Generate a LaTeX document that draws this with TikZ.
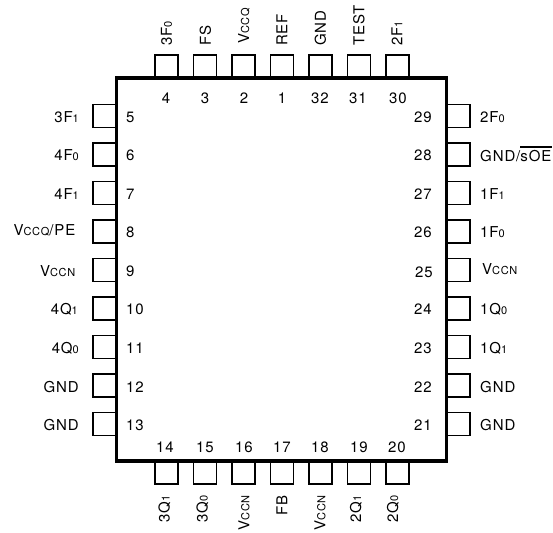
\documentclass[tikz,border=0pt]{standalone}
\usepackage{fontspec}
\setmainfont[LetterSpace=6]{TeX Gyre Heros}
\usepackage{amsmath}

\newcommand{\lowtxt}[1]{{\fontsize{11}{12}\selectfont #1}}
\newcommand{\barOE}{\smash{\rlap{\rule[13pt]{32pt}{2.6pt}}}}

\tikzset{
  pinbox/.style={rectangle,draw,line width=1.6pt,minimum size=23pt,inner sep=0pt},
  pinnum/.style={inner sep=0pt,font=\fontsize{15}{16}\selectfont},
  pinname/.style={inner sep=0pt,font=\fontsize{15}{16}\selectfont},
  topname/.style={pinname,rotate=90,anchor=west},
  botname/.style={pinname,rotate=90,anchor=east},
}

\begin{document}
\begin{tikzpicture}[x=1pt,y=-1pt]
\path[use as bounding box] (0,0) rectangle (553,532);

% pins along the top
\begin{scope}[every node/.style={pinbox}]
\node (p4) at (166.5,66.5) {};
\node (p3) at (205,66.5) {};
\node (p2) at (243.5,66.5) {};
\node (p1) at (282,66.5) {};
\node (p32) at (320.5,66.5) {};
\node (p31) at (359,66.5) {};
\node (p30) at (397.5,66.5) {};

% left side
\node (p5) at (104.5,116) {};
\node (p6) at (104.5,154.5) {};
\node (p7) at (104.5,193) {};
\node (p8) at (104.5,231.5) {};
\node (p9) at (104.5,270) {};
\node (p10) at (104.5,308.5) {};
\node (p11) at (104.5,347) {};
\node (p12) at (104.5,385.5) {};
\node (p13) at (104.5,424) {};

% right side
\node (p29) at (458.5,116) {};
\node (p28) at (458.5,154.5) {};
\node (p27) at (458.5,193) {};
\node (p26) at (458.5,231.5) {};
\node (p25) at (458.5,270) {};
\node (p24) at (458.5,308.5) {};
\node (p23) at (458.5,347) {};
\node (p22) at (458.5,385.5) {};
\node (p21) at (458.5,424) {};

% bottom
\node (p14) at (166.5,472.5) {};
\node (p15) at (205,472.5) {};
\node (p16) at (243.5,472.5) {};
\node (p17) at (282,472.5) {};
\node (p18) at (320.5,472.5) {};
\node (p19) at (359,472.5) {};
\node (p20) at (397.5,472.5) {};
\end{scope}

\node (chip) [draw,line width=3.6pt,minimum width=330pt,minimum height=383pt,inner sep=0pt] at (281.5,269.5) {};

\begin{scope}[every node/.style={pinnum}]
\node (n4) at (166,98) {4};
\node (n3) at (205,98) {3};
\node (n2) at (244,98) {2};
\node (n1) at (282,98) {1};
\node (n32) at (320,98) {32};
\node (n31) at (358,98) {31};
\node (n30) at (398,98) {30};

\node (n5) [anchor=west] at (126,117) {5};
\node (n6) [anchor=west] at (126,155.5) {6};
\node (n7) [anchor=west] at (126,194) {7};
\node (n8) [anchor=west] at (126,232.5) {8};
\node (n9) [anchor=west] at (126,271) {9};
\node (n10) [anchor=west] at (126,309.5) {10};
\node (n11) [anchor=west] at (126,348) {11};
\node (n12) [anchor=west] at (126,387) {12};
\node (n13) [anchor=west] at (126,425.5) {13};

\node (n29) [anchor=east] at (432,117) {29};
\node (n28) [anchor=east] at (432,155.5) {28};
\node (n27) [anchor=east] at (432,194) {27};
\node (n26) [anchor=east] at (432,232.5) {26};
\node (n25) [anchor=east] at (433,272) {25};
\node (n24) [anchor=east] at (432,309.5) {24};
\node (n23) [anchor=east] at (432,348) {23};
\node (n22) [anchor=east] at (432,387) {22};
\node (n21) [anchor=east] at (432,425.5) {21};

\node (n14) at (165,447) {14};
\node (n15) at (205,447) {15};
\node (n16) at (244,447) {16};
\node (n17) at (282,447) {17};
\node (n18) at (320,447) {18};
\node (n19) at (359,447) {19};
\node (n20) at (397,447) {20};
\end{scope}

\node (l4) [topname] at (166.5,46) {3F\lowtxt{0}};
\node (l3) [topname] at (205.5,46) {FS};
\node (l2) [topname] at (244,44) {V\lowtxt{CCQ}};
\node (l1) [topname] at (282,46) {REF};
\node (l32) [topname] at (320.5,46) {GND};
\node (l31) [topname] at (359,46) {TEST};
\node (l30) [topname] at (397,46) {2F\lowtxt{1}};

\begin{scope}[every node/.style={pinname,anchor=east}]
\node (l5) at (79,117) {3F\lowtxt{1}};
\node (l6) at (79,155.5) {4F\lowtxt{0}};
\node (l7) at (79,194) {4F\lowtxt{1}};
\node (l8) at (75.5,230) {V\lowtxt{CCQ}/PE};
\node (l9) at (75.5,271) {V\lowtxt{CCN}};
\node (l10) at (78,309.5) {4Q\lowtxt{1}};
\node (l11) at (79,348) {4Q\lowtxt{0}};
\node (l12) at (79,387) {GND};
\node (l13) at (79,425.5) {GND};
\end{scope}

\begin{scope}[every node/.style={pinname,anchor=west}]
\node (l29) at (480,117) {2F\lowtxt{0}};
\node (l28) at (480,156) {GND/\barOE sOE};
\node (l27) at (480,194) {1F\lowtxt{1}};
\node (l26) at (480,232.5) {1F\lowtxt{0}};
\node (l25) at (482,269) {V\lowtxt{CCN}};
\node (l24) at (480,309.5) {1Q\lowtxt{0}};
\node (l23) at (480,348) {1Q\lowtxt{1}};
\node (l22) at (480,387) {GND};
\node (l21) at (480,425.5) {GND};
\end{scope}

\node (l14) [botname] at (164.5,495) {3Q\lowtxt{1}};
\node (l15) [botname] at (202.5,495) {3Q\lowtxt{0}};
\node (l16) [botname] at (244,495) {V\lowtxt{CCN}};
\node (l17) [botname] at (282,495) {FB};
\node (l18) [botname] at (320,495) {V\lowtxt{CCN}};
\node (l19) [botname] at (356,495) {2Q\lowtxt{1}};
\node (l20) [botname] at (393,495) {2Q\lowtxt{0}};

\end{tikzpicture}
\end{document}
